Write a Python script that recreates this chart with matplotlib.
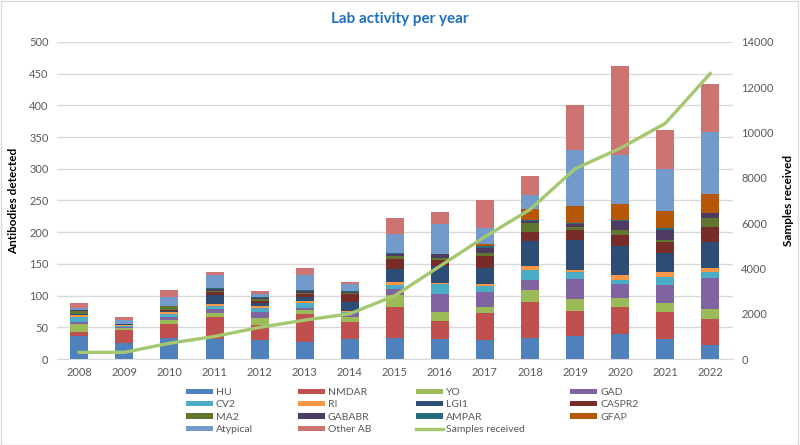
import numpy as np
import matplotlib.pyplot as plt
from matplotlib.patches import Rectangle

plt.rcParams['font.family'] = ['Lato', 'DejaVu Sans']

years = ['2008', '2009', '2010', '2011', '2012', '2013', '2014', '2015',
         '2016', '2017', '2018', '2019', '2020', '2021', '2022']

hu = [37, 26, 34, 31, 30, 27, 31, 34, 31, 30, 34, 36, 39, 31, 22]
nmdar = [6, 20, 22, 35, 23, 44, 28, 48, 29, 42, 56, 40, 43, 43, 41]
yo = [12, 3, 6, 6, 12, 7, 7, 19, 14, 10, 19, 18, 15, 14, 16]
gad = [3, 1, 4, 7, 9, 3, 6, 9, 28, 24, 15, 32, 21, 29, 49]
cv2 = [8, 2, 5, 4, 6, 8, 2, 7, 16, 10, 16, 11, 7, 12, 10]
ri = [4, 2, 3, 4, 4, 3, 2, 4, 2, 3, 6, 3, 7, 8, 5]
lgi1 = [1, 1, 2, 14, 5, 6, 14, 21, 26, 25, 40, 48, 47, 30, 42]
caspr2 = [0, 0, 2, 4, 3, 4, 12, 16, 10, 19, 15, 15, 16, 18, 23]
ma2 = [5, 1, 5, 3, 2, 2, 2, 4, 4, 5, 13, 5, 8, 3, 14]
gababr = [1, 0, 1, 2, 3, 3, 2, 4, 5, 7, 4, 5, 14, 16, 8]
ampar = [0, 0, 0, 2, 1, 2, 1, 2, 1, 4, 1, 1, 3, 3, 1]
gfap = [0, 0, 0, 0, 0, 0, 0, 0, 0, 2, 17, 28, 24, 27, 29]
atypical = [4, 5, 14, 20, 5, 23, 11, 29, 47, 26, 22, 88, 77, 66, 98]
other_ab = [7, 5, 11, 6, 5, 11, 3, 25, 19, 44, 30, 70, 141, 61, 76]

samples = [300, 300, 700, 1000, 1400, 1720, 2000, 2800, 4100, 5400, 6600,
           8400, 9300, 10400, 12600]

series = [
    ('HU', hu, '#4F81BD'),
    ('NMDAR', nmdar, '#C0504D'),
    ('YO', yo, '#9BBB59'),
    ('GAD', gad, '#8064A2'),
    ('CV2', cv2, '#4BACC6'),
    ('RI', ri, '#F79646'),
    ('LGI1', lgi1, '#2C4D75'),
    ('CASPR2', caspr2, '#772C2A'),
    ('MA2', ma2, '#5F7530'),
    ('GABABR', gababr, '#4D3B62'),
    ('AMPAR', ampar, '#276A7C'),
    ('GFAP', gfap, '#B65708'),
    ('Atypical', atypical, '#729ACA'),
    ('Other AB', other_ab, '#CD7371'),
]

fig = plt.figure(figsize=(8, 4.45), dpi=100)
ax = fig.add_axes([0.071, 0.193, 0.845, 0.713])
x = np.arange(len(years))

handles = {}
bottom = np.zeros(len(years))
for name, vals, col in series:
    b = ax.bar(x, vals, 0.4, bottom=bottom, color=col, label=name, zorder=2)
    handles[name] = b
    bottom += np.array(vals)

ax.set_ylim(0, 500)
ax.set_yticks(range(0, 501, 50))
ax.set_xlim(-0.5, len(years) - 0.5)
ax.set_xticks(x)
ax.set_xticklabels(years)
ax.grid(axis='y', color='#D9D9D9', linewidth=1, zorder=0)
ax.set_axisbelow(True)
for s in ['top', 'left', 'right']:
    ax.spines[s].set_visible(False)
ax.spines['bottom'].set_color('#D9D9D9')
ax.tick_params(length=0, labelsize=8, colors='#595959', pad=6)
ax.set_ylabel('Antibodies detected', fontsize=8.5, fontweight='bold', labelpad=7)

ax2 = ax.twinx()
line, = ax2.plot(x, samples, color='#A5C770', linewidth=2.4, label='Samples received')
ax2.set_ylim(0, 14000)
ax2.set_yticks(range(0, 14001, 2000))
for s in ['top', 'left', 'right', 'bottom']:
    ax2.spines[s].set_visible(False)
ax2.tick_params(length=0, labelsize=8, colors='#595959', pad=6)
ax2.set_ylabel('Samples received', fontsize=8.5, fontweight='bold', labelpad=7)

fig.suptitle('Lab activity per year', x=0.5, y=0.972, fontsize=11,
             fontweight='bold', color='#1F70C1')

order = ['HU', 'CV2', 'MA2', 'Atypical', 'NMDAR', 'RI', 'GABABR', 'Other AB',
         'YO', 'LGI1', 'AMPAR', 'Samples received', 'GAD', 'CASPR2', 'GFAP']
hl = [line if n == 'Samples received' else handles[n] for n in order]
fig.legend(hl, order, loc='upper left', bbox_to_anchor=(0.232, 0.128), ncol=4,
           frameon=False, fontsize=7.5, handlelength=2.6, handleheight=0.4,
           columnspacing=4.3, handletextpad=0.3, labelspacing=0.32,
           borderaxespad=0, borderpad=0, labelcolor='#595959')

fig.patches.append(Rectangle((0.001, 0.001), 0.997, 0.997, transform=fig.transFigure,
                             fill=False, edgecolor='#D9D9D9', linewidth=1))

fig.savefig('out.png', dpi=100)
